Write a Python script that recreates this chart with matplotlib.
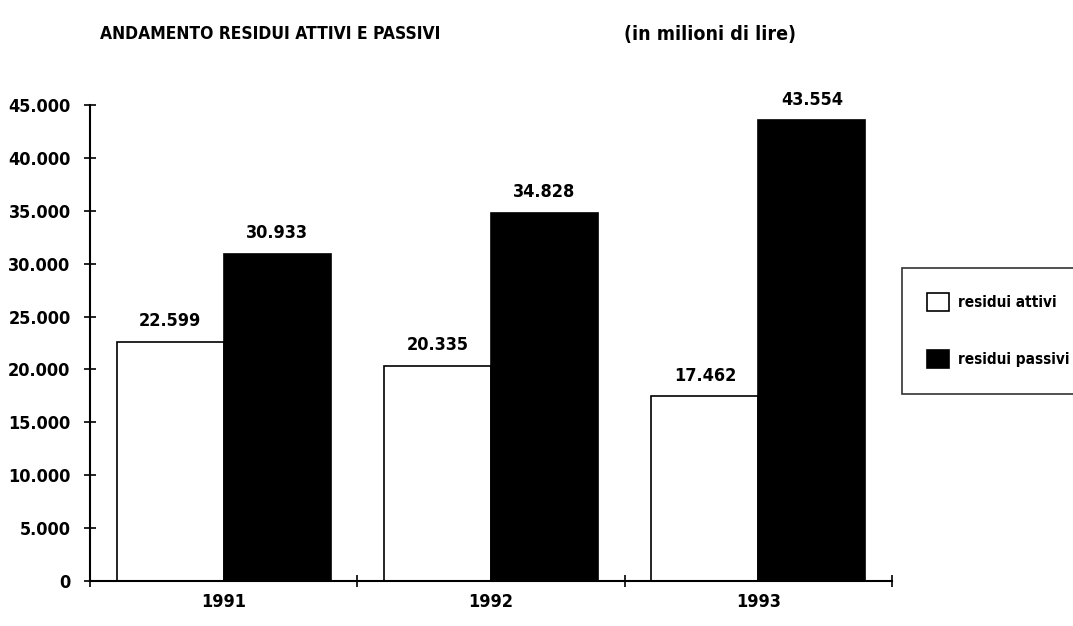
import matplotlib
matplotlib.use("Agg")
import matplotlib.pyplot as plt
import numpy as np
from matplotlib.patches import Patch

years = ["1991", "1992", "1993"]
attivi = [22599, 20335, 17462]
passivi = [30933, 34828, 43554]
yticks = [0, 5000, 10000, 15000, 20000, 25000, 30000, 35000, 40000, 45000]
ytick_labels = ["0", "5.000", "10.000", "15.000", "20.000", "25.000", "30.000", "35.000", "40.000", "45.000"]
series_names = ["residui attivi", "residui passivi"]

plt.rcParams['font.family'] = ["DejaVu Sans"]
plt.rcParams['font.stretch'] = "condensed"
plt.rcParams['font.weight'] = "bold"

fig = plt.figure(figsize=(10.73, 6.26), dpi=100)
ax = fig.add_axes([0.0839, 0.0719, 0.7475, 0.7604])

x = np.arange(len(years))
w = 0.40
ax.bar(x - w/2, attivi, w, color="white", edgecolor="black", linewidth=1.2)
ax.bar(x + w/2, passivi, w, color="black", edgecolor="black", linewidth=1.2)

def fmt(v):
    return f"{v:,}".replace(",", ".")

for xi, v in zip(x - w/2, attivi):
    ax.text(xi, v + 1100, fmt(v), ha="center", va="bottom", fontsize=13, fontweight="bold")
for xi, v in zip(x + w/2, passivi):
    ax.text(xi, v + 1100, fmt(v), ha="center", va="bottom", fontsize=13, fontweight="bold")

ax.set_xlim(-0.5, 2.5)
ax.set_ylim(0, 45000)
ax.set_yticks(yticks)
ax.set_yticklabels(ytick_labels, fontsize=13, fontweight="bold")
ax.set_xticks([-0.5, 0.5, 1.5, 2.5])
ax.set_xticklabels([])
ax.set_xticks(x, minor=True)
ax.set_xticklabels(years, minor=True, fontsize=13, fontweight="bold")
ax.tick_params(axis="x", which="minor", length=0, pad=9)
ax.tick_params(axis="x", which="major", direction="inout", length=8, width=1.2)
ax.tick_params(axis="y", direction="inout", length=8, width=1.2, pad=10)

for s in ["top", "right"]:
    ax.spines[s].set_visible(False)
for s in ["left", "bottom"]:
    ax.spines[s].set_linewidth(1.5)

fig.text(0.252, 0.945, "ANDAMENTO RESIDUI ATTIVI E PASSIVI", ha="center", va="center",
         fontsize=12.5, fontweight="bold")
fig.text(0.662, 0.945, "(in milioni di lire)", ha="center", va="center",
         fontsize=14, fontweight="bold")

handles = [Patch(facecolor="white", edgecolor="black", linewidth=1.2),
           Patch(facecolor="black", edgecolor="black", linewidth=1.2)]
leg = fig.legend(handles, series_names, loc="upper left", bbox_to_anchor=(0.8406, 0.572),
                 borderaxespad=0.0,
                 frameon=True, fancybox=False, edgecolor="black", fontsize=11,
                 handlelength=1.44, handleheight=1.44, labelspacing=2.56, borderpad=1.65,
                 handletextpad=0.6)
leg.get_frame().set_linewidth(1.2)
for t in leg.get_texts():
    t.set_fontweight("bold")

fig.savefig("out.png", dpi=100)
